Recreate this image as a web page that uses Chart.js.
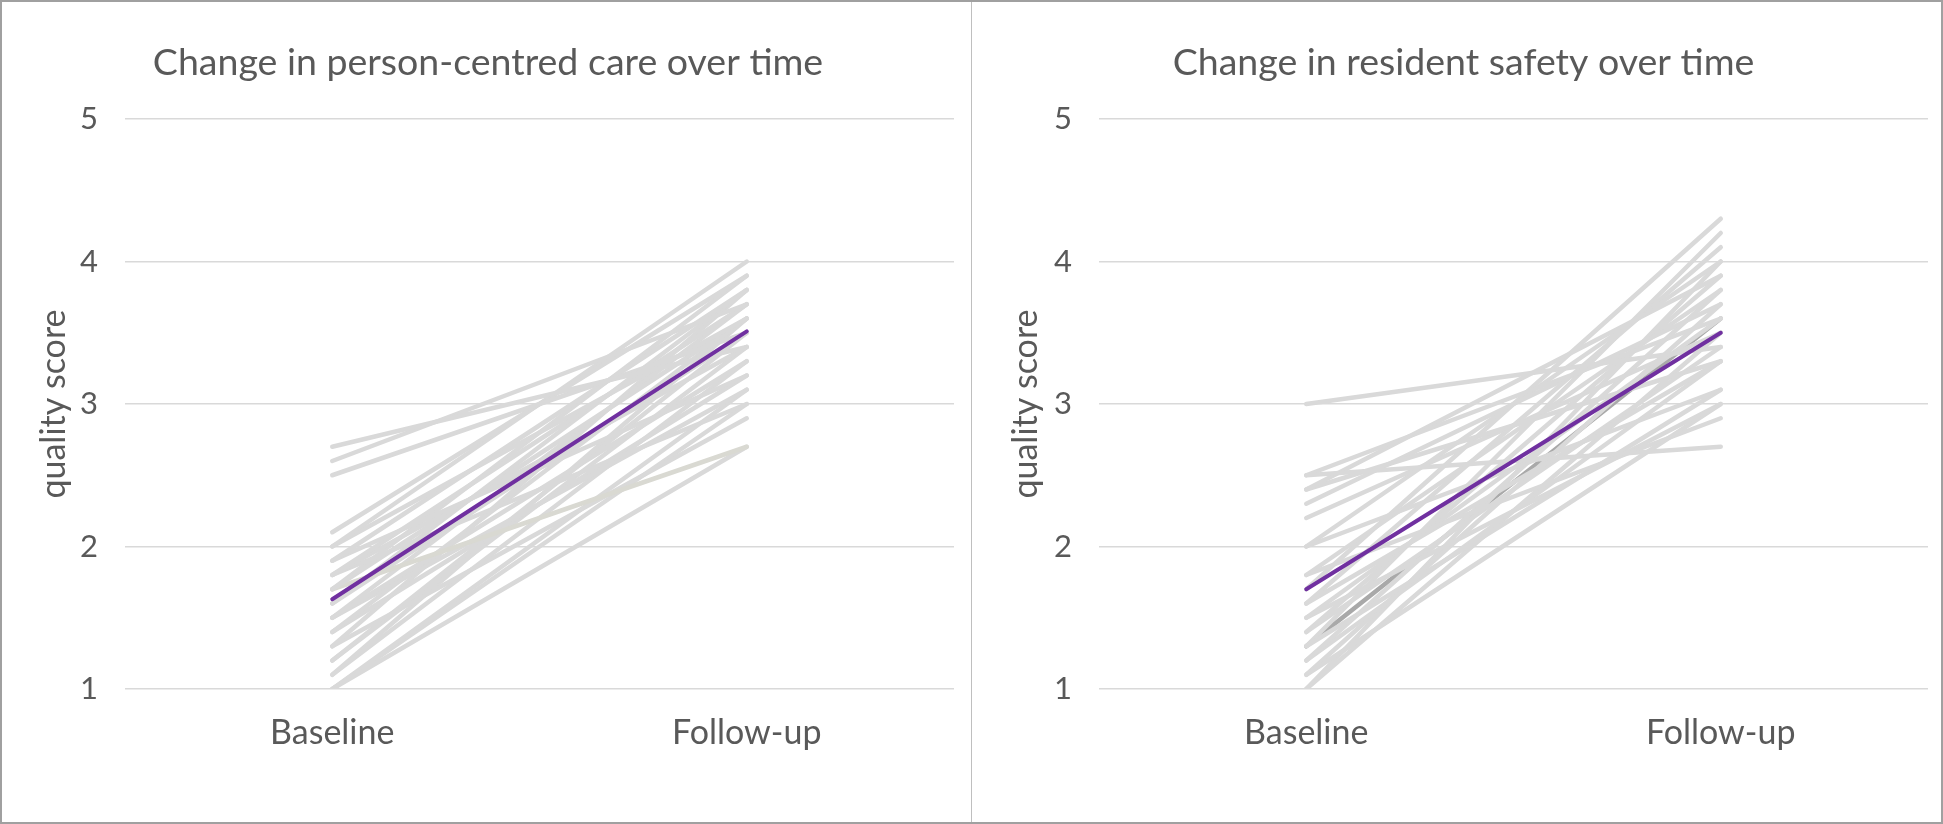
<!DOCTYPE html>
<html><head><meta charset="utf-8">
<script src="https://cdn.jsdelivr.net/npm/chart.js@4.4.1/dist/chart.umd.min.js"></script>
<style>
html,body{margin:0;padding:0;background:#fff;overflow:hidden;}
.panel{position:absolute;top:0;height:824px;}
#p1{left:0;width:971px;}
#p2{left:972px;width:971px;}
#divider{position:absolute;left:971px;top:0;width:1px;height:824px;background:#bfbfbf;}
#frame{position:absolute;left:0;top:0;width:1943px;height:824px;box-sizing:border-box;border:2px solid #a0a0a0;pointer-events:none;}
</style></head>
<body>
<div class="panel" id="p1"><canvas id="c1"></canvas></div>
<div class="panel" id="p2"><canvas id="c2"></canvas></div>
<div id="divider"></div>
<div id="frame"></div>
<script>
// ---- data ----
const categories = ['Baseline', 'Follow-up'];
const yTicks = [1, 2, 3, 4, 5];

const pccTitle = 'Change in person-centred care over time';
const pccBaseline = [2.7, 2.6, 2.5, 2.1, 2.0, 2.0, 1.9, 1.9, 1.8, 1.8, 1.8, 1.7, 1.7, 1.7, 1.6, 1.6, 1.5, 1.5, 1.5, 1.4, 1.4, 1.3, 1.3, 1.2, 1.2, 1.1, 1.1, 1.0, 1.0, 1.0];
const pccFollowUp = [3.4, 3.7, 3.5, 3.9, 4.0, 3.6, 3.8, 3.2, 3.7, 3.4, 3.0, 3.6, 2.7, 3.9, 3.5, 3.8, 3.3, 3.7, 3.1, 3.6, 3.2, 3.8, 2.9, 3.5, 3.4, 3.3, 3.6, 2.7, 3.1, 3.0];
const pccMean = [1.63, 3.51];

const safetyTitle = 'Change in resident safety over time';
const safetyBaseline = [3.0, 2.5, 2.5, 2.4, 2.4, 2.3, 2.2, 2.0, 2.0, 1.8, 1.8, 1.7, 1.6, 1.6, 1.5, 1.5, 1.4, 1.4, 1.3, 1.3, 1.3, 1.2, 1.2, 1.1, 1.1, 1.0, 1.0];
const safetyFollowUp = [3.4, 2.7, 3.6, 3.9, 3.3, 3.7, 3.5, 4.0, 3.1, 2.9, 3.8, 4.3, 3.3, 4.1, 3.6, 3.0, 3.9, 3.4, 3.6, 3.1, 4.2, 3.8, 3.3, 3.0, 3.7, 4.0, 3.5];
const safetyMean = [1.70, 3.50];

const yTitle = 'quality score';

// ---- styles ----
const TEXT = '#595959';
const FONT = 'Lato';
const GREY = '#d9d9d9';
const PURPLE = '#7030a0';

function makeChart(canvasId, title, base, follow, mean, padLeft, plotLeft, padRight, darkIndex, tintIndex) {
  const greyDatasets = base.map((b, i) => ({
    data: [b, follow[i]],
    borderColor: i === darkIndex ? '#a9a9a9' : (i === tintIndex ? '#d9d9d2' : GREY),
    borderWidth: 4.5,
    order: i === darkIndex ? 10 : 5,
    pointRadius: 0,
    borderCapStyle: 'round',
    tension: 0
  }));
  const datasets = [{
    data: mean, borderColor: PURPLE, borderWidth: 4, order: 0,
    pointRadius: 0, borderCapStyle: 'round', tension: 0
  }].concat(greyDatasets);

  return new Chart(document.getElementById(canvasId), {
    type: 'line',
    data: { labels: categories, datasets: datasets },
    options: {
      responsive: true,
      maintainAspectRatio: false,
      animation: false,
      events: [],
      layout: { padding: { left: padLeft, right: padRight, top: 0, bottom: 0 } },
      plugins: {
        legend: { display: false },
        tooltip: { enabled: false },
        title: {
          display: true, text: title, color: TEXT,
          font: { family: FONT, size: 37.5, weight: 'normal', lineHeight: 1.2 },
          padding: { top: 40, bottom: 34 }
        }
      },
      scales: {
        x: {
          type: 'category', offset: true,
          grid: { display: false, drawTicks: false },
          border: { display: false },
          ticks: { color: TEXT, font: { family: FONT, size: 34 }, padding: 24 },
          afterFit: s => { s.height = 135; }
        },
        y: {
          min: yTicks[0], max: yTicks[yTicks.length - 1],
          afterBuildTicks: s => { s.ticks = yTicks.map(v => ({ value: v })); },
          ticks: { color: TEXT, font: { family: FONT, size: 31 }, padding: 27 },
          grid: { color: GREY, lineWidth: 1.5, drawTicks: false },
          border: { display: false },
          title: {
            display: true, text: yTitle, color: TEXT,
            font: { family: FONT, size: 34, lineHeight: 1.2 },
            padding: { top: 34 - padLeft, bottom: 0 }
          },
          afterFit: s => { s.width = plotLeft - padLeft; }
        }
      }
    }
  });
}

makeChart('c1', pccTitle, pccBaseline, pccFollowUp, pccMean, 22, 125, 17, -1, 12);
makeChart('c2', safetyTitle, safetyBaseline, safetyFollowUp, safetyMean, 27, 127, 15, 18, -1);
</script>
</body></html>
